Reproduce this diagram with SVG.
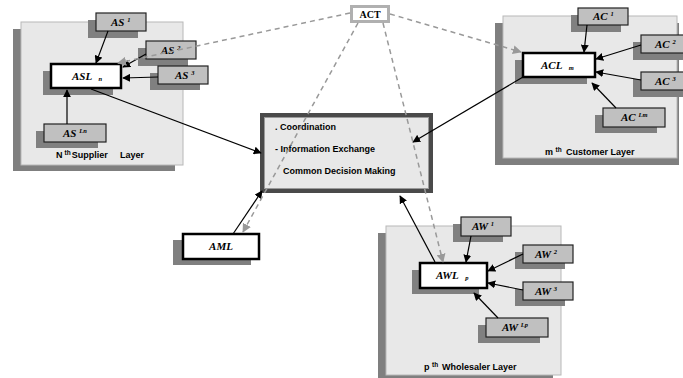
<svg xmlns="http://www.w3.org/2000/svg" width="683" height="378" viewBox="0 0 683 378">
<defs>
<marker id="ah" viewBox="0 0 10 10" refX="9" refY="5" markerWidth="8" markerHeight="8" markerUnits="userSpaceOnUse" orient="auto"><path d="M0,0 L10,5 L0,10 z" fill="#000"/></marker>
<marker id="ahg" viewBox="0 0 10 10" refX="9" refY="5" markerWidth="9" markerHeight="9" markerUnits="userSpaceOnUse" orient="auto"><path d="M0,0 L10,5 L0,10 z" fill="#999"/></marker>
</defs>
<style>
.pshadow{fill:#7f7f7f}
.panel{fill:#e8e8e8;stroke:#b8b8b8;stroke-width:1}
.bshadow{fill:#808080}
.box{fill:#c0c0c0;stroke:#222;stroke-width:1.2}
.lbox{fill:#fff;stroke:#000;stroke-width:2.5}
.lbl{font-family:"Liberation Serif",serif;font-style:italic;font-weight:bold;font-size:11px;fill:#000}
.sup{font-size:6.5px}
.cap{font-family:"Liberation Sans",Arial,sans-serif;font-weight:bold;font-size:9px;fill:#000}
.capsup{font-size:6.5px}
.ln{stroke:#000;stroke-width:1.2;fill:none;marker-end:url(#ah)}
.dl{stroke:#999;stroke-width:1.5;fill:none;stroke-dasharray:5,4;marker-end:url(#ahg)}
</style>

<!-- Panels -->
<g id="supplier-layer">
<rect class="pshadow" x="13" y="29" width="162" height="142"/>
<rect class="panel" x="21" y="22" width="162" height="143"/>
<text class="cap" x="56" y="158">N<tspan class="capsup" dx="2" dy="-3">th</tspan><tspan dx="1" dy="3">Supplier</tspan><tspan x="120">Layer</tspan></text>
</g>
<g id="customer-layer">
<rect class="pshadow" x="495" y="23" width="184" height="142"/>
<rect class="panel" x="503" y="16" width="174" height="142"/>
<text class="cap" x="545" y="155">m <tspan class="capsup" dy="-3">th</tspan><tspan dy="3" x="566">Customer Layer</tspan></text>
</g>
<g id="wholesaler-layer">
<rect class="pshadow" x="378" y="233" width="175" height="150"/>
<rect class="panel" x="386" y="226" width="175" height="149"/>
<text class="cap" x="424" y="370">p <tspan class="capsup" dy="-3">th</tspan><tspan dy="3" x="442">Wholesaler Layer</tspan></text>
</g>

<!-- Central node -->
<g id="central">
<rect x="262" y="115" width="169" height="76" fill="#e8e8e8" stroke="#4a4a4a" stroke-width="4"/>
<rect x="264.5" y="117.5" width="164" height="71" fill="none" stroke="#9a9a9a" stroke-width="1"/>
<text class="cap" x="275" y="130">. Coordination</text>
<text class="cap" x="275" y="152">- Information Exchange</text>
<text class="cap" x="283" y="174">Common Decision Making</text>
</g>

<!-- ACT -->
<g id="ACT">
<rect x="351.5" y="6.5" width="37" height="15" fill="#fff" stroke="#b0b0b0" stroke-width="3"/>
<text x="370" y="18" text-anchor="middle" font-family="Liberation Serif,serif" font-weight="bold" font-size="10">ACT</text>
</g>

<!-- Supplier nodes -->
<g id="AS1"><rect class="bshadow" x="88" y="20" width="50" height="18"/><rect class="box" x="96" y="13" width="50" height="18"/><text class="lbl" x="111" y="26">AS <tspan class="sup" dy="-4">1</tspan></text></g>
<g id="AS2"><rect class="bshadow" x="138" y="48" width="50" height="18"/><rect class="box" x="146" y="41" width="50" height="18"/><text class="lbl" x="161" y="54">AS <tspan class="sup" dy="-4">2</tspan></text></g>
<g id="AS3"><rect class="bshadow" x="150" y="73" width="50" height="17"/><rect class="box" x="158" y="66" width="50" height="18"/><text class="lbl" x="175" y="79">AS <tspan class="sup" dy="-4">3</tspan></text></g>
<g id="ASL"><rect class="bshadow" x="43" y="71" width="70" height="24"/><rect class="lbox" x="51" y="64" width="70" height="24"/><text class="lbl" x="72" y="80">ASL <tspan class="sup" dx="4" dy="1">n</tspan></text></g>
<g id="ASLn"><rect class="bshadow" x="36" y="131" width="62" height="17"/><rect class="box" x="44" y="124" width="62" height="18"/><text class="lbl" x="63" y="137">AS <tspan class="sup" dy="-4">Ln</tspan></text></g>

<!-- Customer nodes -->
<g id="AC1"><rect class="bshadow" x="571" y="15" width="50" height="17"/><rect class="box" x="578" y="8" width="50" height="17"/><text class="lbl" x="593" y="20">AC <tspan class="sup" dy="-4">1</tspan></text></g>
<g id="AC2"><rect class="bshadow" x="633" y="42" width="50" height="18"/><rect class="box" x="641" y="35" width="45" height="18"/><text class="lbl" x="655" y="48">AC <tspan class="sup" dy="-4">2</tspan></text></g>
<g id="AC3"><rect class="bshadow" x="633" y="79" width="50" height="18"/><rect class="box" x="641" y="72" width="45" height="18"/><text class="lbl" x="655" y="85">AC <tspan class="sup" dy="-4">3</tspan></text></g>
<g id="ACL"><rect class="bshadow" x="515" y="60" width="72" height="24"/><rect class="lbox" x="523" y="53" width="72" height="24"/><text class="lbl" x="541" y="69">ACL <tspan class="sup" dx="4" dy="1">m</tspan></text></g>
<g id="ACLm"><rect class="bshadow" x="595" y="115" width="62" height="18"/><rect class="box" x="603" y="108" width="62" height="19"/><text class="lbl" x="621" y="121">AC <tspan class="sup" dy="-4">Lm</tspan></text></g>

<!-- AML -->
<g id="AML"><rect class="bshadow" x="173" y="240" width="78" height="25"/><rect class="lbox" x="183" y="234" width="76" height="25"/><text class="lbl" x="221" y="250" text-anchor="middle">AML</text></g>

<!-- Wholesaler nodes -->
<g id="AW1"><rect class="bshadow" x="453" y="224" width="50" height="18"/><rect class="box" x="461" y="217" width="50" height="19"/><text class="lbl" x="472" y="230">AW <tspan class="sup" dy="-4">1</tspan></text></g>
<g id="AW2"><rect class="bshadow" x="515" y="252" width="50" height="17"/><rect class="box" x="523" y="245" width="50" height="18"/><text class="lbl" x="535" y="258">AW <tspan class="sup" dy="-4">2</tspan></text></g>
<g id="AW3"><rect class="bshadow" x="515" y="289" width="50" height="17"/><rect class="box" x="523" y="282" width="50" height="18"/><text class="lbl" x="535" y="295">AW <tspan class="sup" dy="-4">3</tspan></text></g>
<g id="AWL"><rect class="bshadow" x="412" y="270" width="67" height="24"/><rect class="lbox" x="420" y="263" width="67" height="25"/><text class="lbl" x="436" y="279">AWL <tspan class="sup" dx="4" dy="1">p</tspan></text></g>
<g id="AWLp"><rect class="bshadow" x="478" y="325" width="62" height="18"/><rect class="box" x="486" y="318" width="62" height="19"/><text class="lbl" x="502" y="331">AW <tspan class="sup" dy="-4">Lp</tspan></text></g>

<!-- Connectors -->
<g id="connectors">
<line class="ln" x1="108" y1="31" x2="96" y2="63"/>
<line class="ln" x1="146" y1="54" x2="123" y2="67"/>
<line class="ln" x1="158" y1="77" x2="123" y2="78"/>
<line class="ln" x1="67" y1="124" x2="67" y2="90"/>
<line class="ln" x1="91" y1="89" x2="261" y2="153"/>
<line class="ln" x1="587" y1="25" x2="584" y2="52"/>
<line class="ln" x1="641" y1="45" x2="596" y2="59"/>
<line class="ln" x1="641" y1="80" x2="596" y2="72"/>
<line class="ln" x1="616" y1="108" x2="592" y2="83"/>
<line class="ln" x1="523" y1="77" x2="413" y2="142"/>
<line class="ln" x1="471" y1="236" x2="466" y2="262"/>
<line class="ln" x1="523" y1="254" x2="488" y2="271"/>
<line class="ln" x1="523" y1="290" x2="488" y2="283"/>
<line class="ln" x1="498" y1="318" x2="474" y2="293"/>
<line class="ln" x1="233" y1="234" x2="262" y2="191"/>
<line class="ln" x1="435" y1="262" x2="400" y2="196"/>
<line class="dl" x1="350" y1="13" x2="118" y2="63"/>
<line class="dl" x1="390" y1="14" x2="521" y2="52"/>
<line class="dl" x1="358" y1="23" x2="243" y2="232"/>
<line class="dl" x1="383" y1="23" x2="443" y2="262"/>
</g>
</svg>
